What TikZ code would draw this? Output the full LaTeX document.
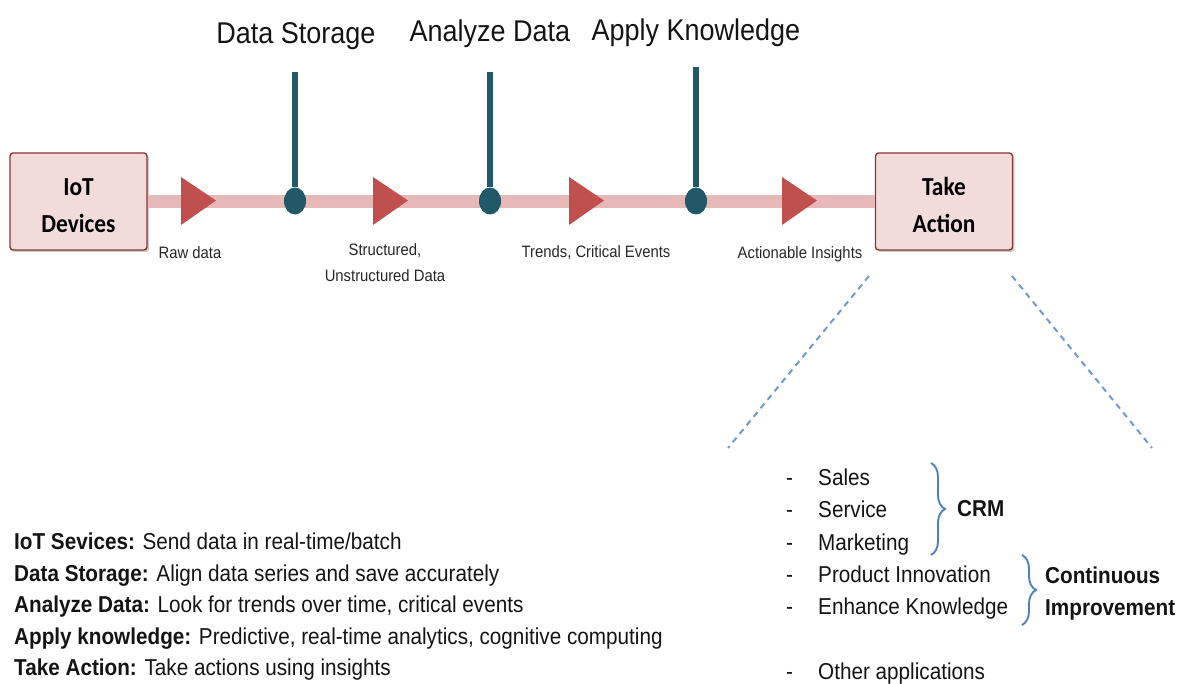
\documentclass[tikz,border=0pt]{standalone}
\usepackage{fontspec}
\setmainfont{Liberation Sans}[FakeStretch=0.9]
\newfontfamily\boxfont{Carlito}[FakeStretch=0.9]
\usetikzlibrary{shapes.geometric,shadows,decorations.pathreplacing}

\definecolor{boxfill}{RGB}{242,220,219}
\definecolor{boxline}{RGB}{140,52,50}
\definecolor{barpink}{RGB}{230,185,184}
\definecolor{arrowred}{RGB}{192,80,77}
\definecolor{stemteal}{RGB}{33,89,104}
\definecolor{guideblue}{RGB}{112,152,212}
\definecolor{braceblue}{RGB}{79,129,189}
\definecolor{inktext}{RGB}{20,20,20}

\tikzset{
  stagebox/.style={draw=boxline, line width=1.4pt, fill=boxfill, rounded corners=3pt,
    minimum width=137pt, minimum height=97pt, align=center, inner sep=0pt,
    font=\boxfont\bfseries\fontsize{26}{37}\selectfont,
    drop shadow={shadow xshift=2pt, shadow yshift=-2pt, opacity=0.35, fill=black!60}},
  flowbar/.style={draw=barpink, line width=13pt},
  flowtip/.style={fill=arrowred},
  tapdot/.style={ellipse, fill=stemteal, minimum width=22pt, minimum height=27pt, inner sep=0pt},
  tapstem/.style={draw=stemteal, line width=5.5pt},
  stagetitle/.style={anchor=base, font=\fontsize{30}{36}\selectfont, text=inktext, inner sep=0pt},
  flowlabel/.style={anchor=base, font=\fontsize{16.5}{26}\selectfont, text=black!85, align=center, inner sep=0pt},
  notetext/.style={anchor=base west, font=\fontsize{23}{28}\selectfont, text=inktext, inner sep=0pt},
  guide/.style={draw=guideblue, line width=2pt, dash pattern=on 6pt off 5pt},
  groupbrace/.style={draw=braceblue, line width=1.9pt, decorate,
    decoration={brace, amplitude=14pt, aspect=0.5}},
  grouplabel/.style={anchor=base west, font=\bfseries\fontsize{23}{32}\selectfont, text=inktext,
    align=left, inner sep=0pt},
}

\begin{document}
\begin{tikzpicture}[x=1pt, y=-1pt]
\useasboundingbox (0,0) rectangle (1182,684);

% end stages (the strut drops the two text lines a little inside the box)
\node[stagebox] (iot) at (78.5,201.5) {\rule{0pt}{26pt}IoT\\Devices};
\node[stagebox] (act) at (944,201.5) {\rule{0pt}{26pt}Take\\Action};

% data flow bar
\draw[flowbar] (iot.east) -- (act.west);

% direction markers on the bar
\foreach \lx in {181,373,569,782}{
  \fill[flowtip] (\lx,177) -- (\lx+35,200.5) -- (\lx,225) -- cycle;
}

% processing stages tapping into the flow
\node[tapdot] (d1) at (295,201) {};
\node[tapdot] (d2) at (490,201) {};
\node[tapdot] (d3) at (696,201) {};
\coordinate (t1) at (295,72);
\coordinate (t2) at (490,72);
\coordinate (t3) at (696,67);
\draw[tapstem] (t1) -- (d1);
\draw[tapstem] (t2) -- (d2);
\draw[tapstem] (t3) -- (d3);

\node[stagetitle] (s1) at (296,44) {Data Storage};
\node[stagetitle] (s2) at (490,41.5) {Analyze Data};
\node[stagetitle] (s3) at (696,41) {Apply Knowledge};

% what travels along each segment (base = last line)
\node[flowlabel] (f1) at (190,259) {Raw data};
\node[flowlabel] (f2) at (385,282) {Structured,\\Unstructured Data};
\node[flowlabel] (f3) at (596,258) {Trends, Critical Events};
\node[flowlabel] (f4) at (800,259) {Actionable Insights};

% zoom-out guides below Take Action
\coordinate (g1a) at (869,276);
\coordinate (g1b) at (728,448);
\coordinate (g2a) at (1012,276);
\coordinate (g2b) at (1152,448);
\draw[guide] (g1a) -- (g1b);
\draw[guide] (g2a) -- (g2b);

% applications list
\foreach \by/\item [count=\i] in {485/Sales,517.5/Service,550/Marketing,582/Product Innovation,614/Enhance Knowledge,679/Other applications}{
  \node[notetext] (dash\i) at (786,\by) {-};
  \node[notetext] (app\i) at (818,\by) {\item};
}

\coordinate (b1a) at (931,463);
\coordinate (b1b) at (931,555);
\coordinate (b2a) at (1022,555);
\coordinate (b2b) at (1022,625);
\draw[groupbrace] (b1a) -- (b1b);
\draw[groupbrace] (b2a) -- (b2b);
\node[grouplabel] (crm) at (957,516) {CRM};
\node[grouplabel] (ci) at (1045,615) {Continuous\\Improvement};

% stage descriptions
\node[notetext] (n1) at (14,549) {\textbf{IoT Sevices:} Send data in real-time/batch};
\node[notetext] (n2) at (14,581) {\textbf{Data Storage:} Align data series and save accurately};
\node[notetext] (n3) at (14,612.5) {\textbf{Analyze Data:} Look for trends over time, critical events};
\node[notetext] (n4) at (14,644) {\textbf{Apply knowledge:} Predictive, real-time analytics, cognitive computing};
\node[notetext] (n5) at (14,675.5) {\textbf{Take Action:} Take actions using insights};
\end{tikzpicture}
\end{document}
